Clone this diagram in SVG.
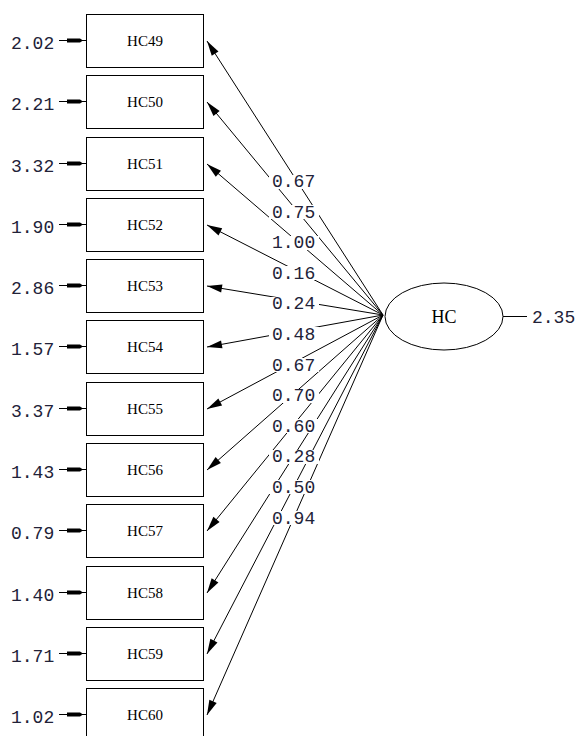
<svg xmlns="http://www.w3.org/2000/svg" width="579" height="736" viewBox="0 0 579 736">
<style>
.box{fill:#fff;stroke:#000;stroke-width:1}
.lbl{font-family:"Liberation Serif","Times New Roman",serif;font-size:15px;fill:#000;text-anchor:middle}
.num{font-family:"Liberation Mono","Courier New",monospace;font-size:18px;fill:#222238}
.ln{stroke:#000;stroke-width:1;fill:none}
.bg{fill:#fff}
</style>
<defs>
<marker id="ah" markerUnits="userSpaceOnUse" markerWidth="20" markerHeight="12" viewBox="-16 -6 20 12" refX="0" refY="0" orient="auto">
<polygon points="0,0 -15,-4 -15,4" fill="#000"/>
</marker>
<marker id="eh" markerUnits="userSpaceOnUse" markerWidth="22" markerHeight="8" viewBox="-20 -4 22 8" refX="0" refY="0" orient="auto">
<polygon points="-19,-2 -6,-2 -3,0 -6,2 -19,2" fill="#000"/>
</marker>
</defs>
<rect width="579" height="736" fill="#fff"/>
<g id="connectors">
<line class="ln" x1="383" y1="315" x2="207" y2="41" marker-end="url(#ah)"/>
<line class="ln" x1="383" y1="315" x2="207" y2="102" marker-end="url(#ah)"/>
<line class="ln" x1="383" y1="315" x2="207" y2="164" marker-end="url(#ah)"/>
<line class="ln" x1="383" y1="315" x2="207" y2="225" marker-end="url(#ah)"/>
<line class="ln" x1="383" y1="315" x2="207" y2="286" marker-end="url(#ah)"/>
<line class="ln" x1="383" y1="315" x2="207" y2="347" marker-end="url(#ah)"/>
<line class="ln" x1="383" y1="315" x2="207" y2="409" marker-end="url(#ah)"/>
<line class="ln" x1="383" y1="315" x2="207" y2="470" marker-end="url(#ah)"/>
<line class="ln" x1="383" y1="315" x2="207" y2="531" marker-end="url(#ah)"/>
<line class="ln" x1="383" y1="315" x2="207" y2="593" marker-end="url(#ah)"/>
<line class="ln" x1="383" y1="315" x2="207" y2="654" marker-end="url(#ah)"/>
<line class="ln" x1="383" y1="315" x2="207" y2="715" marker-end="url(#ah)"/>
<rect class="bg" x="269" y="175" width="50" height="14"/>
<rect class="bg" x="269" y="205" width="50" height="14"/>
<rect class="bg" x="269" y="236" width="50" height="14"/>
<rect class="bg" x="269" y="266" width="50" height="14"/>
<rect class="bg" x="269" y="297" width="50" height="14"/>
<rect class="bg" x="269" y="327" width="50" height="14"/>
<rect class="bg" x="269" y="358" width="50" height="14"/>
<rect class="bg" x="269" y="389" width="50" height="14"/>
<rect class="bg" x="269" y="419" width="50" height="14"/>
<rect class="bg" x="269" y="450" width="50" height="14"/>
<rect class="bg" x="269" y="480" width="50" height="14"/>
<rect class="bg" x="269" y="511" width="50" height="14"/>
<text class="num" x="272" y="187">0.67</text>
<text class="num" x="272" y="218">0.75</text>
<text class="num" x="272" y="248">1.00</text>
<text class="num" x="272" y="279">0.16</text>
<text class="num" x="272" y="309">0.24</text>
<text class="num" x="272" y="340">0.48</text>
<text class="num" x="272" y="371">0.67</text>
<text class="num" x="272" y="401">0.70</text>
<text class="num" x="272" y="432">0.60</text>
<text class="num" x="272" y="462">0.28</text>
<text class="num" x="272" y="493">0.50</text>
<text class="num" x="272" y="524">0.94</text>
<line class="ln" x1="503" y1="316.5" x2="527" y2="316.5"/>
</g>
<g id="HC49"><line class="ln" x1="59" y1="40.5" x2="86" y2="40.5" marker-end="url(#eh)"/><text class="num" x="11" y="49">2.02</text><rect class="box" x="86.5" y="14.5" width="117" height="53"/><text class="lbl" x="145" y="46">HC49</text></g>
<g id="HC50"><line class="ln" x1="59" y1="101.5" x2="86" y2="101.5" marker-end="url(#eh)"/><text class="num" x="11" y="110">2.21</text><rect class="box" x="86.5" y="75.5" width="117" height="53"/><text class="lbl" x="145" y="107">HC50</text></g>
<g id="HC51"><line class="ln" x1="59" y1="163.5" x2="86" y2="163.5" marker-end="url(#eh)"/><text class="num" x="11" y="172">3.32</text><rect class="box" x="86.5" y="137.5" width="117" height="53"/><text class="lbl" x="145" y="169">HC51</text></g>
<g id="HC52"><line class="ln" x1="59" y1="224.5" x2="86" y2="224.5" marker-end="url(#eh)"/><text class="num" x="11" y="233">1.90</text><rect class="box" x="86.5" y="198.5" width="117" height="53"/><text class="lbl" x="145" y="230">HC52</text></g>
<g id="HC53"><line class="ln" x1="59" y1="285.5" x2="86" y2="285.5" marker-end="url(#eh)"/><text class="num" x="11" y="294">2.86</text><rect class="box" x="86.5" y="259.5" width="117" height="53"/><text class="lbl" x="145" y="291">HC53</text></g>
<g id="HC54"><line class="ln" x1="59" y1="346.5" x2="86" y2="346.5" marker-end="url(#eh)"/><text class="num" x="11" y="355">1.57</text><rect class="box" x="86.5" y="320.5" width="117" height="53"/><text class="lbl" x="145" y="352">HC54</text></g>
<g id="HC55"><line class="ln" x1="59" y1="408.5" x2="86" y2="408.5" marker-end="url(#eh)"/><text class="num" x="11" y="417">3.37</text><rect class="box" x="86.5" y="382.5" width="117" height="53"/><text class="lbl" x="145" y="414">HC55</text></g>
<g id="HC56"><line class="ln" x1="59" y1="469.5" x2="86" y2="469.5" marker-end="url(#eh)"/><text class="num" x="11" y="478">1.43</text><rect class="box" x="86.5" y="443.5" width="117" height="53"/><text class="lbl" x="145" y="475">HC56</text></g>
<g id="HC57"><line class="ln" x1="59" y1="530.5" x2="86" y2="530.5" marker-end="url(#eh)"/><text class="num" x="11" y="539">0.79</text><rect class="box" x="86.5" y="504.5" width="117" height="53"/><text class="lbl" x="145" y="536">HC57</text></g>
<g id="HC58"><line class="ln" x1="59" y1="592.5" x2="86" y2="592.5" marker-end="url(#eh)"/><text class="num" x="11" y="601">1.40</text><rect class="box" x="86.5" y="566.5" width="117" height="53"/><text class="lbl" x="145" y="598">HC58</text></g>
<g id="HC59"><line class="ln" x1="59" y1="653.5" x2="86" y2="653.5" marker-end="url(#eh)"/><text class="num" x="11" y="662">1.71</text><rect class="box" x="86.5" y="627.5" width="117" height="53"/><text class="lbl" x="145" y="659">HC59</text></g>
<g id="HC60"><line class="ln" x1="59" y1="714.5" x2="86" y2="714.5" marker-end="url(#eh)"/><text class="num" x="11" y="723">1.02</text><rect class="box" x="86.5" y="688.5" width="117" height="53"/><text class="lbl" x="145" y="720">HC60</text></g>
<g id="HC"><ellipse cx="444" cy="316.5" rx="59" ry="33.5" fill="#fff" stroke="#000" stroke-width="1"/><text x="444" y="323" text-anchor="middle" font-family="Liberation Serif,'Times New Roman',serif" font-size="18" fill="#000">HC</text><text class="num" x="532" y="323">2.35</text></g>
</svg>
